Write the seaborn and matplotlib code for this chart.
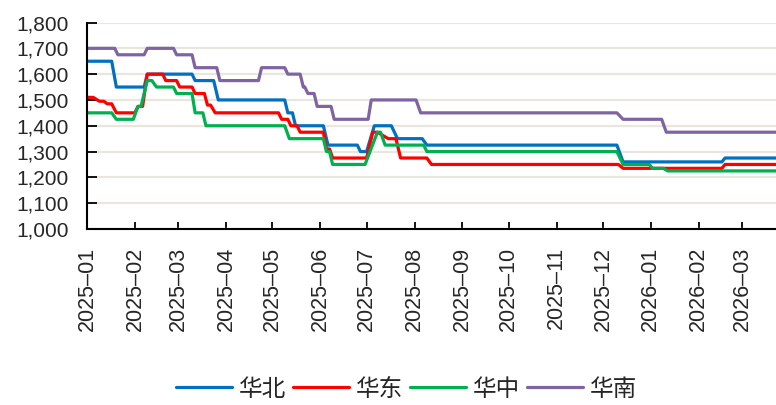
import pandas as pd
import matplotlib
matplotlib.use("Agg")
import matplotlib.pyplot as plt
import matplotlib.dates as mdates
from matplotlib.ticker import StrMethodFormatter
import seaborn as sns

# ------------------------------------------------------------
# data: price levels per region, (start, end, value)
# ------------------------------------------------------------
REGIONS = ["华北", "华东", "华中", "华南"]
COLORS = ["#0070C0", "#FF0000", "#00B050", "#8064A2"]

SEG_HUABEI = [
    ("2025-01-01", "2025-01-17", 1650), ("2025-01-20", "2025-02-07", 1550),
    ("2025-02-09", "2025-03-10", 1600), ("2025-03-12", "2025-03-24", 1575),
    ("2025-03-27", "2025-05-09", 1500), ("2025-05-11", "2025-05-14", 1450),
    ("2025-05-16", "2025-06-03", 1400), ("2025-06-06", "2025-06-25", 1325),
    ("2025-06-27", "2025-07-01", 1300), ("2025-07-06", "2025-07-17", 1400),
    ("2025-07-21", "2025-08-06", 1350), ("2025-08-09", "2025-12-10", 1325),
    ("2025-12-14", "2026-02-16", 1260), ("2026-02-18", "2026-03-23", 1275),
]
SEG_HUADONG = [
    ("2025-01-01", "2025-01-05", 1510), ("2025-01-09", "2025-01-12", 1495),
    ("2025-01-14", "2025-01-17", 1485), ("2025-01-20", "2025-02-01", 1450),
    ("2025-02-03", "2025-02-06", 1475), ("2025-02-09", "2025-02-19", 1600),
    ("2025-02-21", "2025-02-28", 1575), ("2025-03-02", "2025-03-10", 1550),
    ("2025-03-12", "2025-03-18", 1525), ("2025-03-20", "2025-03-22", 1480),
    ("2025-03-25", "2025-05-05", 1450), ("2025-05-07", "2025-05-11", 1425),
    ("2025-05-13", "2025-05-17", 1400), ("2025-05-19", "2025-06-03", 1375),
    ("2025-06-05", "2025-06-07", 1310), ("2025-06-09", "2025-07-01", 1275),
    ("2025-07-05", "2025-07-08", 1375), ("2025-07-15", "2025-07-20", 1350),
    ("2025-07-23", "2025-08-09", 1275), ("2025-08-12", "2025-12-11", 1250),
    ("2025-12-14", "2026-02-16", 1235), ("2026-02-18", "2026-03-23", 1250),
]
SEG_HUAZHONG = [
    ("2025-01-01", "2025-01-17", 1450), ("2025-01-20", "2025-01-31", 1425),
    ("2025-02-03", "2025-02-05", 1475), ("2025-02-09", "2025-02-12", 1575),
    ("2025-02-15", "2025-02-26", 1550), ("2025-02-28", "2025-03-10", 1525),
    ("2025-03-12", "2025-03-17", 1450), ("2025-03-19", "2025-05-09", 1400),
    ("2025-05-12", "2025-06-03", 1350), ("2025-06-05", "2025-06-07", 1300),
    ("2025-06-09", "2025-06-30", 1250), ("2025-07-08", "2025-07-10", 1375),
    ("2025-07-13", "2025-08-07", 1325), ("2025-08-09", "2025-12-10", 1300),
    ("2025-12-14", "2025-12-31", 1250), ("2026-01-02", "2026-01-09", 1235),
    ("2026-01-12", "2026-03-23", 1225),
]
SEG_HUANAN = [
    ("2025-01-01", "2025-01-19", 1700), ("2025-01-21", "2025-02-07", 1675),
    ("2025-02-09", "2025-02-26", 1700), ("2025-02-28", "2025-03-10", 1675),
    ("2025-03-12", "2025-03-26", 1625), ("2025-03-28", "2025-04-22", 1575),
    ("2025-04-24", "2025-05-09", 1625), ("2025-05-11", "2025-05-19", 1600),
    ("2025-05-21", "2025-05-22", 1550), ("2025-05-24", "2025-05-28", 1525),
    ("2025-05-30", "2025-06-08", 1475), ("2025-06-10", "2025-07-02", 1425),
    ("2025-07-04", "2025-08-02", 1500), ("2025-08-05", "2025-12-10", 1450),
    ("2025-12-14", "2026-01-08", 1425), ("2026-01-11", "2026-03-23", 1375),
]

Y_TICKS = list(range(1000, 1801, 100))


def to_frame():
    rows = []
    for name, segs in zip(REGIONS, [SEG_HUABEI, SEG_HUADONG, SEG_HUAZHONG, SEG_HUANAN]):
        for start, end, val in segs:
            rows.append((name, pd.Timestamp(start), val))
            rows.append((name, pd.Timestamp(end), val))
    return pd.DataFrame(rows, columns=["region", "date", "price"])


def main():
    sns.set_theme(style="white")
    plt.rcParams["font.family"] = ["Liberation Sans", "Noto Sans CJK SC"]

    df = to_frame()

    fig = plt.figure(figsize=(7.76, 4.05), dpi=100)
    ax = fig.add_axes([0.1121, 0.4346, 0.8879, 0.5098])

    sns.lineplot(data=df, x="date", y="price", hue="region", hue_order=REGIONS,
                 palette=dict(zip(REGIONS, COLORS)), estimator=None, sort=False,
                 linewidth=2.3, ax=ax)

    ax.set_xlim(pd.Timestamp("2025-01-01"), pd.Timestamp("2026-03-23"))
    ax.set_ylim(1000, 1800)
    ax.set_yticks(Y_TICKS)
    ax.yaxis.set_major_formatter(StrMethodFormatter("{x:,.0f}"))
    ax.xaxis.set_major_locator(mdates.MonthLocator())
    ax.xaxis.set_major_formatter(mdates.DateFormatter("%Y–%m"))
    plt.setp(ax.get_xticklabels(), rotation=90)

    ax.grid(axis="y", color="#E9E6DE", linewidth=1.6)
    ax.set_axisbelow(True)
    for side in ["top", "right"]:
        ax.spines[side].set_visible(False)
    for side in ["left", "bottom"]:
        ax.spines[side].set_color("black")
        ax.spines[side].set_linewidth(1.5)

    ax.tick_params(axis="y", direction="in", length=7, width=1.3, color="black",
                   labelsize=15, pad=13, left=True)
    ax.tick_params(axis="x", direction="in", length=5, width=1.3, color="black",
                   labelsize=15.5, pad=13, bottom=True)
    ax.set_xlabel("")
    ax.set_ylabel("")

    handles, labels = ax.get_legend_handles_labels()
    ax.get_legend().remove()
    fig.legend(handles, labels, loc="center", bbox_to_anchor=(0.524, 0.038),
               ncol=4, frameon=False, fontsize=17, handlelength=2.35,
               handletextpad=0.3, columnspacing=0.3)

    fig.savefig("out.png", dpi=100)
    plt.close(fig)


if __name__ == "__main__":
    main()
